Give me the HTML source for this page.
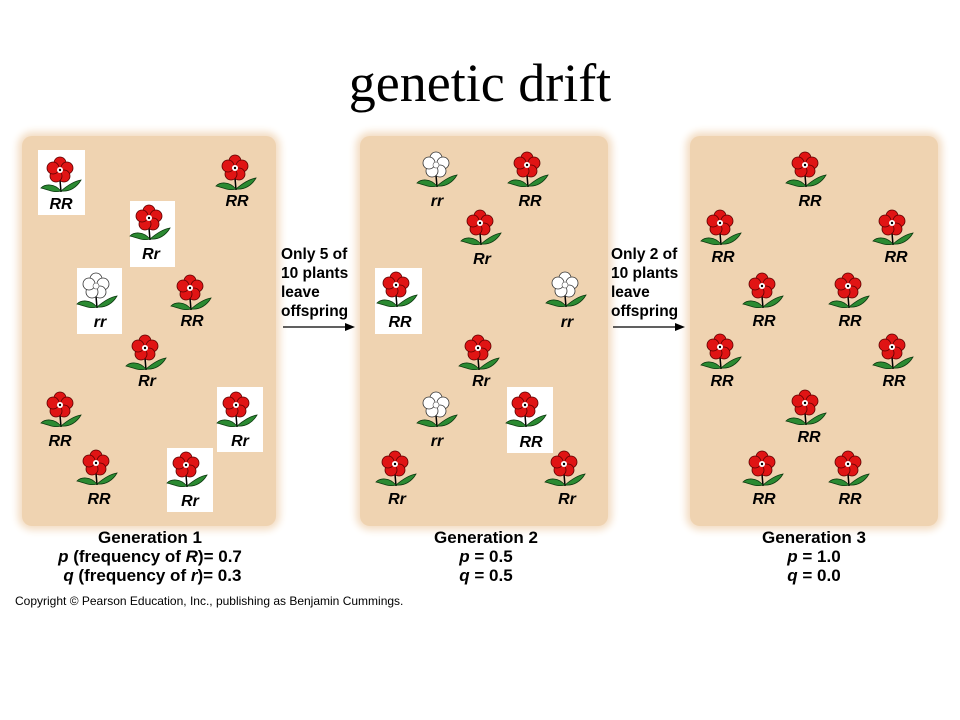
<!DOCTYPE html>
<html><head><meta charset="utf-8"><style>
body{margin:0;width:960px;height:720px;background:#fff;position:relative;overflow:hidden;font-family:"Liberation Sans",Arial,sans-serif}
.t{position:absolute;left:0;width:960px;top:52px;text-align:center;font-family:"Liberation Serif",serif;font-size:54px;color:#000}
.pan{position:absolute;background:#efd3b1;border-radius:10px;box-shadow:0 0 8px 4px #f3dcc2}
.box{position:absolute;background:#fff}
.lab{position:absolute;font-weight:bold;font-style:italic;font-size:16px;transform:translateX(-50%);line-height:16px}
.arr{position:absolute;font-weight:bold;font-size:15.5px;line-height:19px}
.gen{position:absolute;font-weight:bold;font-size:17px;line-height:19px;text-align:center;transform:translateX(-50%);white-space:nowrap}
.cp{position:absolute;left:15px;top:594px;font-size:12px}
svg{position:absolute;left:0;top:0}
</style></head><body>
<div class="t">genetic drift</div>
<div class="pan" style="left:22px;top:136px;width:254px;height:390px"></div>
<div class="pan" style="left:360px;top:136px;width:248px;height:390px"></div>
<div class="pan" style="left:690px;top:136px;width:248px;height:390px"></div>
<div class="box" style="left:38px;top:150px;width:47px;height:65px"></div>
<div class="box" style="left:130px;top:201px;width:45px;height:66px"></div>
<div class="box" style="left:77px;top:268px;width:45px;height:66px"></div>
<div class="box" style="left:217px;top:387px;width:46px;height:65px"></div>
<div class="box" style="left:167px;top:448px;width:46px;height:64px"></div>
<div class="box" style="left:375px;top:268px;width:47px;height:66px"></div>
<div class="box" style="left:507px;top:387px;width:46px;height:66px"></div>
<svg width="960" height="720">
<defs>
<g id="st"><path d="M0 10 L1 22" stroke="#000" stroke-width="1.5"/>
<path d="M1 21 C-6 13 -15 14 -19 18 C-11 20 -6 23 1 21Z" fill="#2b8a32" stroke="#0d3a10" stroke-width=".8"/>
<path d="M1 21 C8 15 15 11 21 10 C17 17 10 22 1 21Z" fill="#2b8a32" stroke="#0d3a10" stroke-width=".8"/></g>
<g id="R"><use href="#st"/><g fill="#e01414" stroke="#5a0000" stroke-width=".8">
<circle cx="0" cy="-7" r="6"/><circle cx="7" cy="-2" r="6"/><circle cx="4" cy="6" r="6"/><circle cx="-4" cy="6" r="6"/><circle cx="-7" cy="-2" r="6"/></g>
<circle r="3" fill="#fff"/><circle r="1.2" fill="#000"/></g>
<g id="W"><use href="#st"/><g fill="#fff" stroke="#333" stroke-width=".8">
<circle cx="0" cy="-7" r="6"/><circle cx="7" cy="-2" r="6"/><circle cx="4" cy="6" r="6"/><circle cx="-4" cy="6" r="6"/><circle cx="-7" cy="-2" r="6"/></g>
<circle r="3" fill="#fff" stroke="#555" stroke-width=".6"/></g>
</defs>
<use href="#R" x="60" y="170"/><use href="#R" x="235" y="168"/><use href="#R" x="149" y="218"/><use href="#W" x="96" y="286"/>
<use href="#R" x="190" y="288"/><use href="#R" x="145" y="348"/><use href="#R" x="60" y="405"/><use href="#R" x="236" y="405"/>
<use href="#R" x="96" y="463"/><use href="#R" x="186" y="465"/>
<use href="#W" x="436" y="165"/><use href="#R" x="527" y="165"/><use href="#R" x="480" y="223"/><use href="#R" x="396" y="285"/>
<use href="#W" x="565" y="285"/><use href="#R" x="478" y="348"/><use href="#W" x="436" y="405"/><use href="#R" x="525" y="405"/>
<use href="#R" x="395" y="464"/><use href="#R" x="564" y="464"/>
<use href="#R" x="805" y="165"/><use href="#R" x="720" y="223"/><use href="#R" x="892" y="223"/><use href="#R" x="762" y="286"/>
<use href="#R" x="848" y="286"/><use href="#R" x="720" y="347"/><use href="#R" x="892" y="347"/><use href="#R" x="805" y="403"/>
<use href="#R" x="762" y="464"/><use href="#R" x="848" y="464"/>
<g stroke="#000" stroke-width="1.3"><line x1="283" y1="327" x2="350" y2="327"/><line x1="613" y1="327" x2="680" y2="327"/></g>
<path d="M355 327 L345 323 L345 331Z M685 327 L675 323 L675 331Z" fill="#000"/>
</svg>
<div class="lab" style="left:61px;top:197px">RR</div>
<div class="lab" style="left:237px;top:194px">RR</div>
<div class="lab" style="left:151px;top:247px">Rr</div>
<div class="lab" style="left:100px;top:315px">rr</div>
<div class="lab" style="left:192px;top:314px">RR</div>
<div class="lab" style="left:147px;top:374px">Rr</div>
<div class="lab" style="left:60px;top:434px">RR</div>
<div class="lab" style="left:240px;top:434px">Rr</div>
<div class="lab" style="left:99px;top:492px">RR</div>
<div class="lab" style="left:190px;top:494px">Rr</div>
<div class="lab" style="left:437px;top:194px">rr</div>
<div class="lab" style="left:530px;top:194px">RR</div>
<div class="lab" style="left:482px;top:252px">Rr</div>
<div class="lab" style="left:400px;top:315px">RR</div>
<div class="lab" style="left:567px;top:315px">rr</div>
<div class="lab" style="left:481px;top:374px">Rr</div>
<div class="lab" style="left:437px;top:434px">rr</div>
<div class="lab" style="left:531px;top:435px">RR</div>
<div class="lab" style="left:397px;top:492px">Rr</div>
<div class="lab" style="left:567px;top:492px">Rr</div>
<div class="lab" style="left:810px;top:194px">RR</div>
<div class="lab" style="left:723px;top:250px">RR</div>
<div class="lab" style="left:896px;top:250px">RR</div>
<div class="lab" style="left:764px;top:314px">RR</div>
<div class="lab" style="left:850px;top:314px">RR</div>
<div class="lab" style="left:722px;top:374px">RR</div>
<div class="lab" style="left:894px;top:374px">RR</div>
<div class="lab" style="left:809px;top:430px">RR</div>
<div class="lab" style="left:764px;top:492px">RR</div>
<div class="lab" style="left:850px;top:492px">RR</div>
<div class="arr" style="left:281px;top:245px">Only 5 of<br>10 plants<br>leave<br>offspring</div>
<div class="arr" style="left:611px;top:245px">Only 2 of<br>10 plants<br>leave<br>offspring</div>
<div class="gen" style="left:150px;top:528px">Generation 1<br><i>p</i> (frequency of <i>R</i>)= 0.7<br>&nbsp;<i>q</i> (frequency of <i>r</i>)= 0.3</div>
<div class="gen" style="left:486px;top:528px">Generation 2<br><i>p</i> = 0.5<br><i>q</i> = 0.5</div>
<div class="gen" style="left:814px;top:528px">Generation 3<br><i>p</i> = 1.0<br><i>q</i> = 0.0</div>
<div class="cp">Copyright © Pearson Education, Inc., publishing as Benjamin Cummings.</div>
</body></html>
